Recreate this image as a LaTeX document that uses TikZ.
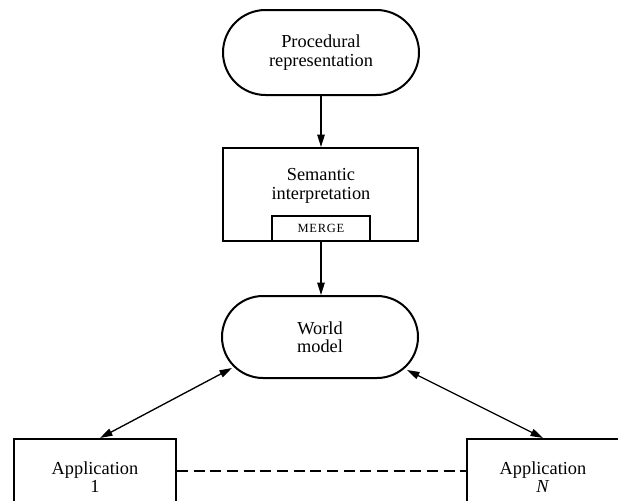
\documentclass[tikz,border=0pt]{standalone}
\usepackage{fontspec}
\setmainfont{Liberation Serif}
\usetikzlibrary{arrows.meta,shapes.misc}
\begin{document}
\begin{tikzpicture}[x=0.6pt,y=-0.6pt,
  stad/.style={rounded rectangle, draw, line width=1.2pt, align=center, font=\fontsize{11}{11}\selectfont, inner sep=0pt},
  boxx/.style={rectangle, draw, line width=1.2pt, inner sep=0pt, align=center, font=\fontsize{11}{11}\selectfont},
  lbl/.style={align=center, font=\fontsize{11}{11}\selectfont, inner sep=0pt},
  tip/.tip={Triangle[length=7.5pt,width=4.5pt]},
  arr/.style={line width=0.8pt, -tip},
  darr/.style={line width=0.8pt, tip-tip},
  dline/.style={line width=0.8pt, dash pattern=on 6.5pt off 3.5pt},
]
\useasboundingbox (0,0) rectangle (618,501);
\clip (0,0) rectangle (618,501);
\node[stad, minimum width=196*0.6pt, minimum height=85*0.6pt] (proc) at (321,52.5) {Procedural\\representation};
\node[boxx, minimum width=195*0.6pt, minimum height=93*0.6pt] (sem) at (320.5,194.5) {};
\node[lbl] (semlbl) at (321,186) {Semantic\\interpretation};
\node[boxx, minimum width=98*0.6pt, minimum height=25*0.6pt, font=\fontsize{7.5}{8}\selectfont\addfontfeature{LetterSpace=6}] (merge) at (321,228.5) {MERGE};
\node[stad, minimum width=196*0.6pt, minimum height=82*0.6pt] (world) at (320,337) {World\\model};
\node[boxx, minimum width=162*0.6pt, minimum height=76*0.6pt] (app1) at (95,477) {Application\\1};
\node[boxx, minimum width=152*0.6pt, minimum height=76*0.6pt] (appN) at (543,477) {Application\\\textit{N}};
\draw[arr] (proc.south) -- (proc.south |- sem.north);
\draw[arr] (merge.south) -- (merge.south |- world.north);
\draw[darr] ([shift={(-88,31)}]world.center) -- ([xshift=3pt]app1.north);
\draw[darr] ([shift={(87,33)}]world.center) -- (appN.north);
\draw[dline] ([yshift=3.6pt]app1.east) -- ([yshift=3.6pt]appN.west);
\end{tikzpicture}
\end{document}
